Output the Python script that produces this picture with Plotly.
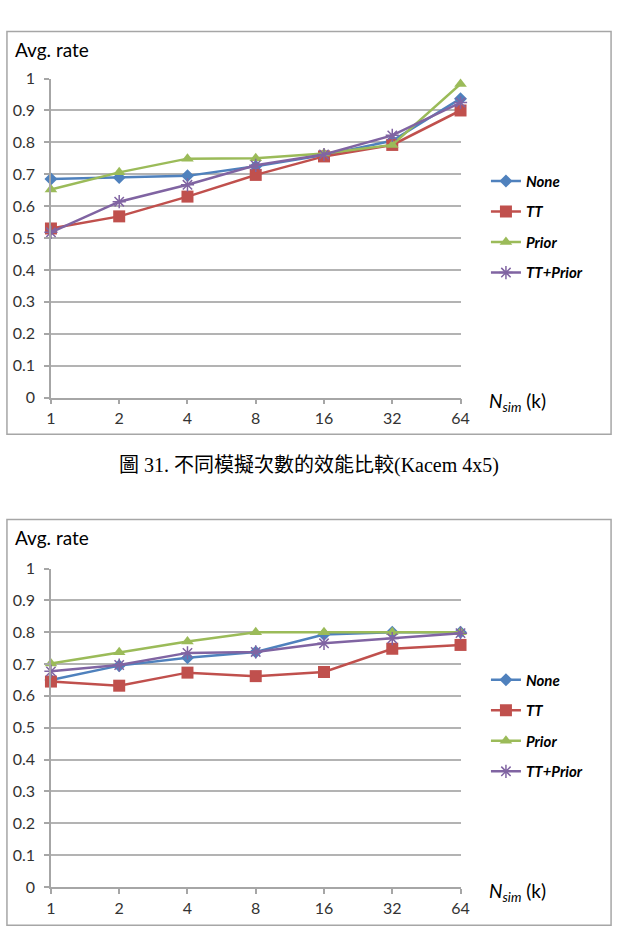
import plotly.graph_objects as go

W, H = 623, 942
categories = ["1", "2", "4", "8", "16", "32", "64"]
series_names = ["None", "TT", "Prior", "TT+Prior"]

# Chart 1 values
c1_none = [0.685, 0.690, 0.695, 0.725, 0.760, 0.805, 0.937]
c1_tt = [0.530, 0.568, 0.630, 0.698, 0.756, 0.792, 0.900]
c1_prior = [0.652, 0.706, 0.749, 0.750, 0.765, 0.792, 0.983]
c1_ttprior = [0.518, 0.614, 0.667, 0.728, 0.762, 0.822, 0.925]

# Chart 2 values
c2_none = [0.650, 0.695, 0.720, 0.738, 0.793, 0.800, 0.800]
c2_tt = [0.645, 0.632, 0.673, 0.662, 0.675, 0.748, 0.760]
c2_prior = [0.702, 0.737, 0.771, 0.800, 0.800, 0.800, 0.800]
c2_ttprior = [0.677, 0.697, 0.735, 0.738, 0.765, 0.780, 0.797]

y_ticks = [0, 0.1, 0.2, 0.3, 0.4, 0.5, 0.6, 0.7, 0.8, 0.9, 1]
y_ticktext = ["0", "0.1", "0.2", "0.3", "0.4", "0.5", "0.6", "0.7", "0.8", "0.9", "1"]

caption = "圖 31. 不同模擬次數的效能比較(Kacem 4x5)"

colors = ["#4F81BD", "#C0504D", "#9BBB59", "#8064A2"]
symbols = ["diamond", "square", "triangle-up", "asterisk-open"]
msizes = [10, 12, 11, 11]

fig = go.Figure()

def px_x(p):
    return p / W

def px_y(p):
    return 1 - p / H

charts = [
    dict(data=[c1_none, c1_tt, c1_prior, c1_ttprior], xa="x", ya="y", leg="legend",
         top=70, bottom=395.5, box=(2, 22, 620, 433), title_y=40, nsim_y=400, leg_top=158),
    dict(data=[c2_none, c2_tt, c2_prior, c2_ttprior], xa="x2", ya="y2", leg="legend2",
         top=570, bottom=895, box=(2, 520, 620, 934), title_y=538, nsim_y=900, leg_top=667),
]

font_fam = "Lato, Open Sans, Liberation Sans, sans-serif"

for ci, ch in enumerate(charts):
    for si, name in enumerate(series_names):
        fig.add_trace(go.Scatter(
            x=list(range(len(categories))), y=ch["data"][si], name=name,
            mode="lines+markers",
            line=dict(color=colors[si], width=2.5),
            marker=dict(symbol=symbols[si], size=msizes[si], color=colors[si],
                        line=dict(color=colors[si], width=1.5 if si == 3 else 0)),
            xaxis=ch["xa"], yaxis=ch["ya"], legend=ch["leg"], legendgroup=f"{ci}-{si}",
            cliponaxis=False,
        ))

x_dom = [px_x(47), px_x(466)]
tick_font = dict(family=font_fam, size=16, color="#333333")
axis_common_x = dict(
    range=[0, 6], tickmode="array", tickvals=list(range(len(categories))), ticktext=categories,
    showgrid=False, showline=True, linecolor="#A6A6A6", linewidth=1.5,
    ticks="outside", ticklen=5, tickcolor="#A6A6A6", tickwidth=1.5,
    tickfont=tick_font, zeroline=False, ticklabelstandoff=1,
)
axis_common_y = dict(
    range=[0, 1], tickmode="array", tickvals=y_ticks, ticktext=y_ticktext,
    showgrid=True, gridcolor="#B3B3B3", gridwidth=1.5,
    showline=True, linecolor="#A6A6A6", linewidth=1.5,
    ticks="outside", ticklen=5, tickcolor="#A6A6A6", tickwidth=1.5,
    tickfont=tick_font, zeroline=False, ticklabelstandoff=6,
)

legend_common = dict(
    font=dict(family=font_fam, size=15, color="#000000", style="italic", weight="bold"),
    bgcolor="rgba(0,0,0,0)", borderwidth=0, tracegroupgap=8,
    traceorder="grouped", itemwidth=30, xanchor="left", yanchor="top",
)

layout = dict(
    width=W, height=H, margin=dict(l=0, r=0, t=0, b=0),
    paper_bgcolor="white", plot_bgcolor="white", showlegend=True,
    xaxis=dict(domain=x_dom, anchor="y", **axis_common_x),
    yaxis=dict(domain=[px_y(charts[0]["bottom"]), px_y(charts[0]["top"])], anchor="x", **axis_common_y),
    xaxis2=dict(domain=x_dom, anchor="y2", **axis_common_x),
    yaxis2=dict(domain=[px_y(charts[1]["bottom"]), px_y(charts[1]["top"])], anchor="x2", **axis_common_y),
    legend=dict(x=px_x(492), y=px_y(charts[0]["leg_top"]), **legend_common),
    legend2=dict(x=px_x(492), y=px_y(charts[1]["leg_top"]), **legend_common),
)
fig.update_layout(**layout)

shapes = []
annotations = []
for ch in charts:
    x0, y0, x1, y1 = ch["box"]
    shapes.append(dict(type="rect", xref="paper", yref="paper",
                       x0=px_x(x0), x1=px_x(x1), y0=px_y(y1), y1=px_y(y0),
                       line=dict(color="#A6A6A6", width=1.5), fillcolor="rgba(0,0,0,0)", layer="below"))
    annotations.append(dict(text="Avg. rate", xref="paper", yref="paper",
                            x=px_x(8), y=px_y(ch["title_y"]), xanchor="left", yanchor="middle",
                            showarrow=False, font=dict(family=font_fam, size=19, color="#000000")))
    annotations.append(dict(text="<i>N</i><sub><i>sim</i></sub> (k)", xref="paper", yref="paper",
                            x=px_x(493), y=px_y(ch["nsim_y"]), xanchor="left", yanchor="middle",
                            showarrow=False, font=dict(family=font_fam, size=19, color="#000000")))

annotations.append(dict(text=caption, xref="paper", yref="paper",
                        x=px_x(311), y=px_y(465), xanchor="center", yanchor="middle",
                        showarrow=False,
                        font=dict(family="Liberation Serif, Noto Sans CJK TC, serif", size=20, color="#000000")))

fig.update_layout(shapes=shapes, annotations=annotations)

fig.write_html("out.html")
